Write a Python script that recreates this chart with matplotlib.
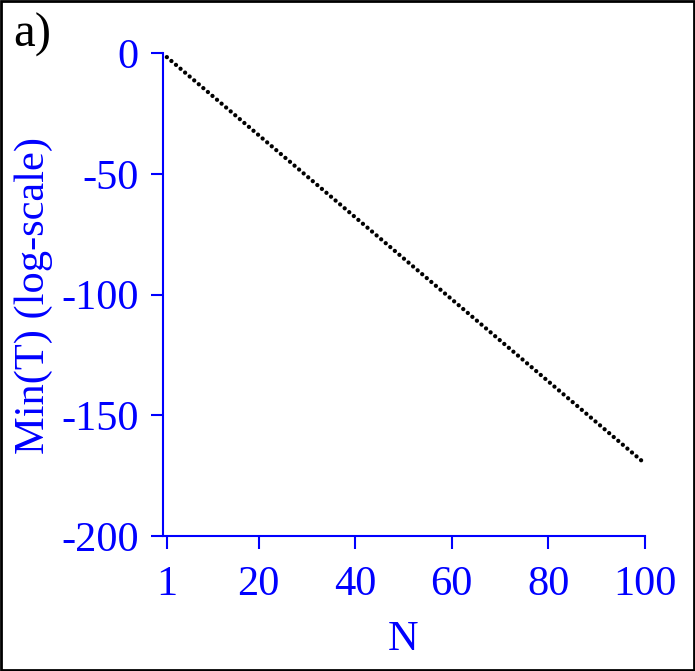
import matplotlib
matplotlib.use("Agg")
import matplotlib.pyplot as plt
from matplotlib.patches import Rectangle

N_vals = [1, 20, 40, 60, 80, 100]
min_T = [-1.7, -34.0, -68.0, -102.0, -136.0, -170.0]
x_ticks = [1, 20, 40, 60, 80, 100]
y_ticks = [0, -50, -100, -150, -200]

plt.rcParams['font.family'] = ['Liberation Serif', 'DejaVu Serif']
BLUE = '#0000ff'
FS = 30.5

fig = plt.figure(figsize=(6.95, 6.71), dpi=100)
ax = fig.add_axes([0.2345, 0.2012, 0.928 - 0.2345, 0.921 - 0.2012])

ax.plot(N_vals, min_T, color='black', lw=3.1, linestyle=(0, (0.01, 1.38)),
        dash_capstyle='round', solid_capstyle='round')

ax.set_xlim(0.2, 100)
ax.set_ylim(-200, 0)
ax.set_xticks(x_ticks)
ax.set_yticks(y_ticks)
ax.set_xticklabels([str(v) for v in x_ticks])
ax.set_yticklabels([str(v) for v in y_ticks])

for s in ['top', 'right']:
    ax.spines[s].set_visible(False)
for s in ['left', 'bottom']:
    ax.spines[s].set_color(BLUE)
    ax.spines[s].set_linewidth(1.5)

ax.tick_params(axis='both', colors=BLUE, labelcolor=BLUE, labelsize=FS,
               length=9, width=1.5, direction='out')
ax.tick_params(axis='y', pad=8.5)
ax.tick_params(axis='x', pad=12)

fig.text(403 / 695, 1 - 650 / 671, 'N', color=BLUE, fontsize=FS,
         ha='center', va='baseline')
fig.text(34 / 695, 1 - 295 / 671, 'Min(T) (log-scale)', color=BLUE,
         fontsize=FS, rotation=90, ha='center', va='center')

fig.text(13 / 695, 1 - 47 / 671, 'a)', color='black', fontsize=35, ha='left', va='baseline')

fig.patches.append(Rectangle((0.002, 0.002), 0.996, 0.996, transform=fig.transFigure,
                             fill=False, edgecolor='black', lw=2.0))

fig.savefig('out.png', dpi=100)
